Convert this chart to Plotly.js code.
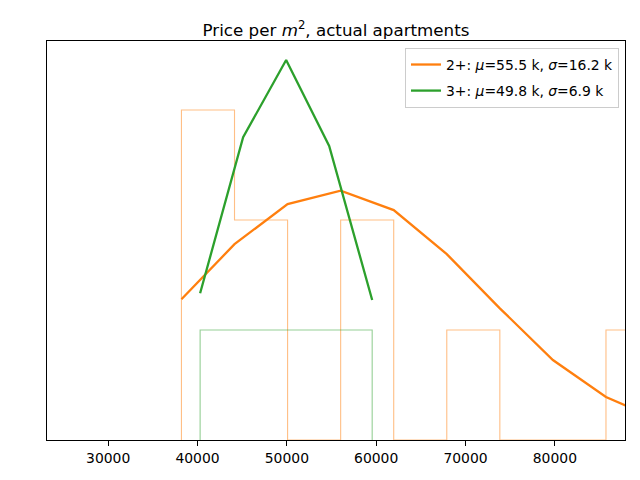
<!DOCTYPE html>
<html>
<head>
<meta charset="utf-8">
<script src="https://cdn.plot.ly/plotly-3.0.1.min.js"></script>
<style>html,body{margin:0;padding:0;background:#fff;}#chart{width:640px;height:480px;}</style>
</head>
<body>
<div id="chart"></div>
<script>
// Histogram of 2+ apartments (bin edges and counts)
const edges2 = [38200, 44140, 50080, 56020, 61960, 67900, 73840, 79780, 85720, 91660];
const counts2 = [3, 2, 0, 2, 0, 1, 0, 0, 1];
// Histogram of 3+ apartments
const edges3 = [40290, 45105, 49920, 54735, 59550];
const counts3 = [1, 1, 1, 1];
// Fitted curves, evaluated at bin edges (same units as counts)
const curve2 = [1.28, 1.78, 2.145, 2.266, 2.09, 1.69, 1.197, 0.727, 0.391, 0.18];
const curve3 = [1.334, 2.752, 3.4545, 2.673, 1.273];
const label2 = "2+: <i>μ</i>=55.5 k, <i>σ</i>=16.2 k";
const label3 = "3+: <i>μ</i>=49.8 k, <i>σ</i>=6.9 k";

function stepXY(edges, counts) {
  const x = [edges[0]], y = [0];
  for (let i = 0; i < counts.length; i++) { x.push(edges[i]); y.push(counts[i]); }
  x.push(edges[edges.length - 1]); y.push(0);
  return {x, y};
}
const s2 = stepXY(edges2, counts2);
const s3 = stepXY(edges3, counts3);

const data = [
  {x: s2.x, y: s2.y, mode: 'lines', line: {shape: 'hv', color: 'rgba(255,127,14,0.5)', width: 1.1}, showlegend: false, hoverinfo: 'skip'},
  {x: s3.x, y: s3.y, mode: 'lines', line: {shape: 'hv', color: 'rgba(44,160,44,0.5)', width: 1.1}, showlegend: false, hoverinfo: 'skip'},
  {x: edges2, y: curve2, mode: 'lines', name: label2, legendgroup: 'a', line: {color: '#ff7f0e', width: 2.3}},
  {x: edges3, y: curve3, mode: 'lines', name: label3, legendgroup: 'b', line: {color: '#2ca02c', width: 2.3}}
];

const layout = {
  width: 640, height: 480,
  margin: {l: 47, r: 15, t: 41, b: 40, pad: 0},
  paper_bgcolor: '#fff', plot_bgcolor: '#fff',
  font: {family: 'DejaVu Sans', size: 14, color: '#000'},
  title: {text: 'Price per <i>m</i><sup>2</sup>, actual apartments', font: {family: 'DejaVu Sans', size: 16.7, color: '#000'},
          x: 0.5, xref: 'paper', y: 1, yref: 'paper', yanchor: 'bottom', pad: {b: 5}},
  xaxis: {range: [23150, 87850], tickvals: [30000, 40000, 50000, 60000, 70000, 80000],
          ticktext: ['30000', '40000', '50000', '60000', '70000', '80000'],
          ticks: 'outside', ticklen: 5, tickwidth: 1, tickcolor: '#000',
          showline: true, linecolor: '#000', linewidth: 1, mirror: true,
          showgrid: false, zeroline: false, tickfont: {size: 13.9, color: '#000'}},
  yaxis: {range: [0, 3.627], showticklabels: false, ticks: '', showgrid: false, zeroline: false,
          showline: true, linecolor: '#000', linewidth: 1, mirror: true},
  legend: {x: 0.9896, xanchor: 'right', y: 0.9825, yanchor: 'top', traceorder: 'grouped',
           bgcolor: 'rgba(255,255,255,0.8)', bordercolor: '#ccc', borderwidth: 1,
           font: {size: 13.9, color: '#000'}, itemwidth: 30, tracegroupgap: 5},
  showlegend: true
};
Plotly.newPlot('chart', data, layout, {displayModeBar: false, staticPlot: true});
</script>
</body>
</html>
